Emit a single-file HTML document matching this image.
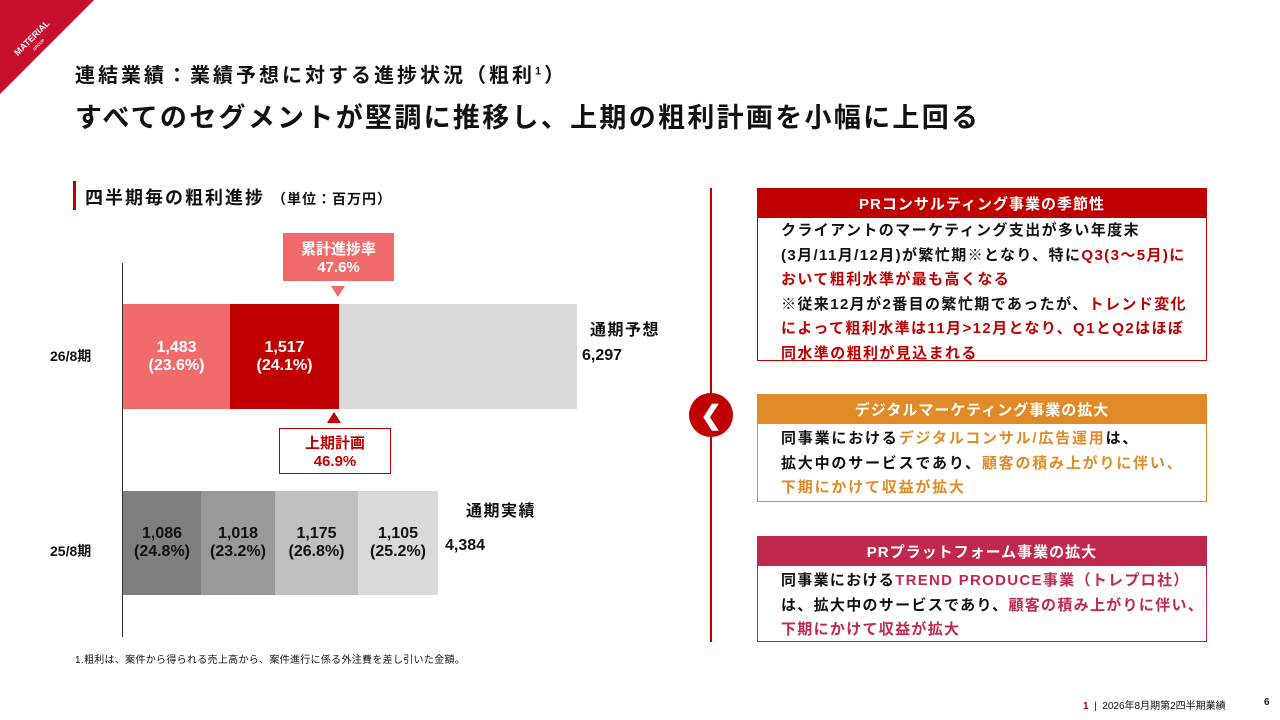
<!DOCTYPE html>
<html><head><meta charset="utf-8"><style>
*{margin:0;padding:0;box-sizing:border-box}
body{width:1280px;height:720px;position:relative;background:#fff;font-family:"Liberation Sans","Noto Sans CJK JP",sans-serif;font-weight:bold;color:#111;overflow:hidden}
.a{position:absolute;white-space:nowrap}
.c{display:flex;align-items:center;justify-content:center;text-align:center;flex-direction:column}
.w{color:#fff}
.r{color:#c00000}.o{color:#e08a28}.p{color:#c0294d}
.body{font-size:15px;line-height:24.5px;padding-left:23px;letter-spacing:1.4px;white-space:nowrap}
</style></head><body>
<svg class="a" style="left:0;top:0" width="100" height="100"><polygon points="0,0 94,0 0,94" fill="#c8102e"/>
<g transform="rotate(-45 34 40)"><text x="34" y="40" text-anchor="middle" fill="#fff" font-size="9" font-family="Liberation Sans" font-weight="bold">MATERIAL</text>
<text x="34" y="48" text-anchor="middle" fill="#fff" font-size="4" font-family="Liberation Sans">GROUP</text></g></svg>
<div class="a" style="left:75px;top:59px;font-size:20px;letter-spacing:3px">連結業績：業績予想に対する進捗状況（粗利<sup style="font-size:11px">1</sup>）</div>
<div class="a" style="left:75px;top:96px;font-size:27px;letter-spacing:2.3px">すべてのセグメントが堅調に推移し、上期の粗利計画を小幅に上回る</div>
<div class="a" style="left:73px;top:181px;width:3px;height:29px;background:#c00000"></div>
<div class="a" style="left:85px;top:184px;font-size:18px;letter-spacing:2px">四半期毎の粗利進捗 <span style="font-size:14px;letter-spacing:1px">（単位：百万円）</span></div>
<div class="a" style="left:122px;top:263px;width:1px;height:374px;background:#333"></div>
<div class="a" style="left:50px;top:346px;font-size:14px">26/8期</div>
<div class="a" style="left:50px;top:541px;font-size:14px">25/8期</div>
<div class="a c w" style="left:123px;top:304px;width:107px;height:105px;background:#f26b6b;font-size:16px">1,483<br>(23.6%)</div>
<div class="a c w" style="left:230px;top:304px;width:109px;height:105px;background:#c00000;font-size:16px">1,517<br>(24.1%)</div>
<div class="a" style="left:339px;top:304px;width:238px;height:105px;background:#d9d9d9"></div>
<div class="a" style="left:590px;top:316px;font-size:16px;letter-spacing:1.5px">通期予想</div>
<div class="a" style="left:582px;top:347px;font-size:16px">6,297</div>
<div class="a c w" style="left:283px;top:233px;width:111px;height:48px;background:#f26b6b;font-size:15px">累計進捗率<br>47.6%</div>
<svg class="a" style="left:331px;top:286px" width="14" height="12"><polygon points="0,0 14,0 7,11" fill="#f26b6b"/></svg>
<svg class="a" style="left:327px;top:412px" width="14" height="12"><polygon points="7,0 14,11 0,11" fill="#c00000"/></svg>
<div class="a c r" style="left:279px;top:428px;width:112px;height:46px;border:1.5px solid #c00000;font-size:15px">上期計画<br>46.9%</div>
<div class="a c" style="left:123px;top:491px;width:78px;height:104px;background:#7f7f7f;font-size:16px">1,086<br>(24.8%)</div>
<div class="a c" style="left:201px;top:491px;width:74px;height:104px;background:#999;font-size:16px">1,018<br>(23.2%)</div>
<div class="a c" style="left:275px;top:491px;width:83px;height:104px;background:#bfbfbf;font-size:16px">1,175<br>(26.8%)</div>
<div class="a c" style="left:358px;top:491px;width:80px;height:104px;background:#d9d9d9;font-size:16px">1,105<br>(25.2%)</div>
<div class="a" style="left:466px;top:497px;font-size:16px;letter-spacing:1.5px">通期実績</div>
<div class="a" style="left:445px;top:537px;font-size:16px">4,384</div>
<div class="a" style="left:75px;top:651px;font-size:10px;font-weight:normal;letter-spacing:0.3px">1.粗利は、案件から得られる売上高から、案件進行に係る外注費を差し引いた金額。</div>
<div class="a" style="left:710px;top:188px;width:2px;height:454px;background:#c00000"></div>
<div class="a c w" style="left:689px;top:393px;width:44px;height:44px;border-radius:50%;background:#c00000;font-size:26px">❮</div>
<div class="a" style="left:757px;top:188px;width:450px;height:173px;border:1.5px solid #c00000">
<div class="c w" style="height:29px;background:#c00000;font-size:15px;letter-spacing:1px">PRコンサルティング事業の季節性</div>
<div class="body" style="padding-top:1px">クライアントのマーケティング支出が多い年度末<br>(3月/11月/12月)が繁忙期※となり、特に<span class="r">Q3(3〜5月)に</span><br><span class="r">おいて粗利水準が最も高くなる</span><br>※従来12月が2番目の繁忙期であったが、<span class="r">トレンド変化</span><br><span class="r">によって粗利水準は11月&gt;12月となり、Q1とQ2はほぼ</span><br><span class="r">同水準の粗利が見込まれる</span></div></div>
<div class="a" style="left:757px;top:394px;width:450px;height:108px;border:1.5px solid #e08a28">
<div class="c w" style="height:29px;background:#e08a28;font-size:15px;letter-spacing:1px">デジタルマーケティング事業の拡大</div>
<div class="body" style="padding-top:3px;letter-spacing:1.8px">同事業における<span class="o">デジタルコンサル/広告運用</span>は、<br>拡大中のサービスであり、<span class="o">顧客の積み上がりに伴い、</span><br><span class="o">下期にかけて収益が拡大</span></div></div>
<div class="a" style="left:757px;top:536px;width:450px;height:106px;border:1.5px solid #c0294d">
<div class="c w" style="height:29px;background:#c0294d;font-size:15px;letter-spacing:1px">PRプラットフォーム事業の拡大</div>
<div class="body" style="padding-top:3px;letter-spacing:1.3px">同事業における<span class="p">TREND PRODUCE事業（トレプロ社）</span><br>は、拡大中のサービスであり、<span class="p">顧客の積み上がりに伴い、</span><br><span class="p">下期にかけて収益が拡大</span></div></div>
<div class="a" style="left:1083px;top:697px;font-size:10px;font-weight:normal"><b class="r">1</b> &nbsp;| &nbsp;2026年8月期第2四半期業績</div>
<div class="a" style="left:1264px;top:697px;font-size:10px">6</div>
</body></html>
